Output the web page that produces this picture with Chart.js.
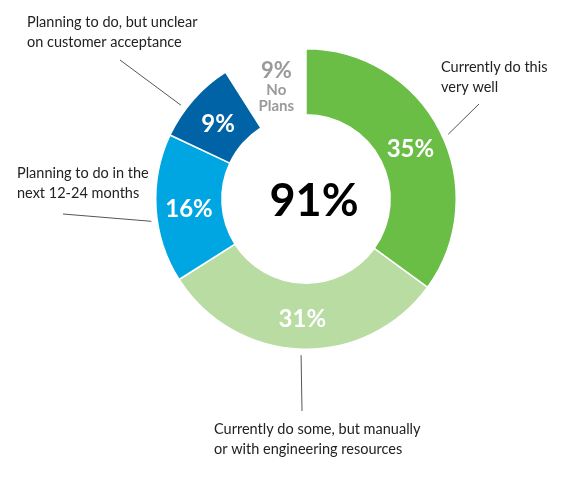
<!DOCTYPE html>
<html>
<head>
<meta charset="utf-8">
<script src="https://cdn.jsdelivr.net/npm/chart.js@4.4.1/dist/chart.umd.min.js"></script>
<style>
  html, body { margin: 0; padding: 0; background: #fff; }
  #wrap { width: 570px; height: 480px; position: relative; }
</style>
</head>
<body>
<div id="wrap"><canvas id="donut_canvas"></canvas></div>
<script>
// Survey answers, clockwise from the top
const categories = [
    'Currently do this very well',
    'Currently do some, but manually or with engineering resources',
    'Planning to do in the next 12-24 months',
    'Planning to do, but unclear on customer acceptance',
    'No Plans'
];
const shares = [35, 31, 16, 9, 9];
const sliceColors = ['#6abd45', '#b9dca3', '#00a6e2', '#0063a6', 'rgba(0,0,0,0)'];
const totalLabel = '91%';

// Callout text for each slice (null = none), text block anchor relative to the doughnut centre
const calloutLines = [
    ['Currently do this', 'very well'],
    ['Currently do some, but manually', 'or with engineering resources'],
    ['Planning to do in the', 'next 12-24 months'],
    ['Planning to do, but unclear', 'on customer acceptance'],
    null
];
const calloutText = [[135, -132], [-92, 230], [-289, -26], [-279, -177], null];
const calloutEnd = [[173, -95], [-4, 212], [-243, 15], [-186, -139], null];
// where along the slice (0..1) the leader line touches it
const calloutAt = [0.52, 0.5, 0.42, 0.36, null];

const labelFont = '"Lato", "Open Sans", sans-serif';

// Draws the percentages, the centre figure and the leader lines
const annotatePlugin = {
    id: 'annotate',
    afterDatasetsDraw(chart) {
        const ctx = chart.ctx;
        const arcs = chart.getDatasetMeta(0).data;
        const cx = arcs[0].x, cy = arcs[0].y;
        ctx.save();
        ctx.textAlign = 'center';
        ctx.textBaseline = 'middle';

        arcs.forEach((arc, i) => {
            const pos = arc.tooltipPosition();
            if (i === shares.length - 1) {
                // the gap: "No Plans" in grey
                ctx.fillStyle = '#9a9a9a';
                ctx.font = 'bold 22px ' + labelFont;
                ctx.fillText(shares[i] + '%', pos.x + 3, pos.y - 16);
                ctx.font = 'bold 15px ' + labelFont;
                ctx.fillText('No', pos.x + 3, pos.y + 4);
                ctx.fillText('Plans', pos.x + 3, pos.y + 20);
            } else {
                ctx.fillStyle = '#ffffff';
                ctx.font = 'bold 24px ' + labelFont;
                ctx.fillText(shares[i] + '%', pos.x, pos.y + 3);
            }

            if (calloutLines[i]) {
                const a = arc.startAngle + (arc.endAngle - arc.startAngle) * calloutAt[i];
                const r = arc.outerRadius + 6;
                ctx.strokeStyle = '#555555';
                ctx.lineWidth = 1;
                ctx.beginPath();
                ctx.moveTo(cx + Math.cos(a) * r, cy + Math.sin(a) * r);
                ctx.lineTo(cx + calloutEnd[i][0], cy + calloutEnd[i][1]);
                ctx.stroke();

                ctx.fillStyle = '#222222';
                ctx.font = '14.5px ' + labelFont;
                ctx.textAlign = 'left';
                calloutLines[i].forEach((line, k) => {
                    ctx.fillText(line, cx + calloutText[i][0], cy + calloutText[i][1] + k * 20);
                });
                ctx.textAlign = 'center';
            }
        });

        ctx.fillStyle = '#000000';
        ctx.font = 'bold 45px ' + labelFont;
        ctx.fillText(totalLabel, cx + 8, cy + 2);
        ctx.restore();
    }
};

let context = document.getElementById('donut_canvas').getContext('2d');

let donut_chart = new Chart(context, {
    type: 'doughnut',
    data: {
        labels: categories,
        datasets: [{
            data: shares,
            backgroundColor: sliceColors,
            borderColor: ['#ffffff', '#ffffff', '#ffffff', '#ffffff', 'rgba(0,0,0,0)'],
            borderWidth: 1.5
        }]
    },
    options: {
        responsive: true,
        maintainAspectRatio: false,
        animation: false,
        cutout: '56%',
        layout: {
            padding: { left: 155, right: 113, top: 48, bottom: 130 }
        },
        plugins: {
            legend: { display: false },
            tooltip: { enabled: false }
        }
    },
    plugins: [annotatePlugin]
});
</script>
</body>
</html>
